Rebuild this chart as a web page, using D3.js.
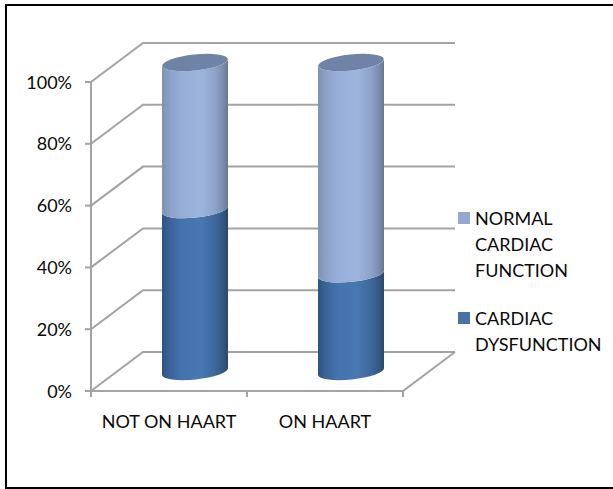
<!DOCTYPE html>
<html><head><meta charset="utf-8">
<script src="https://cdn.jsdelivr.net/npm/d3@7"></script>
<style>html,body{margin:0;padding:0;background:#fff}svg{display:block}text{font-family:Lato,"Open Sans",sans-serif;fill:#0a0a0a}</style>
</head><body><div id="c"></div>
<script>
const categories = ["NOT ON HAART", "ON HAART"];
const dysfunction = [0.524, 0.316];
const normal = [0.476, 0.684];
const yTicks = [0, 0.2, 0.4, 0.6, 0.8, 1];
const legendItems = [
  {lines:["NORMAL","CARDIAC","FUNCTION"], key:"normal"},
  {lines:["CARDIAC","DYSFUNCTION"], key:"dys"}
];
const W=613,H=489;
const svg=d3.select("#c").append("svg").attr("width",W).attr("height",H);
const defs=svg.append("defs");
function grad(id,stops){
  const g=defs.append("linearGradient").attr("id",id);
  stops.forEach(s=>g.append("stop").attr("offset",s[0]).attr("stop-color",s[1]));
}
grad("gLight",[[0,"#7f92b4"],[0.12,"#8ba1c8"],[0.3,"#97aed8"],[0.6,"#9db4dd"],[0.8,"#8ea3c9"],[0.93,"#7a8cab"],[1,"#68768f"]]);
grad("gDark",[[0,"#2f5380"],[0.12,"#3a6499"],[0.3,"#4473ad"],[0.6,"#4877b2"],[0.8,"#3e689b"],[0.93,"#335781"],[1,"#2a4768"]]);

svg.append("path").attr("d","M6 489V5H613M6 488H613").attr("fill","none").attr("stroke","#000").attr("stroke-width",2);

const y=d3.scaleLinear().domain([0,1]).range([391,82]);
const x=d3.scaleBand().domain(categories).range([91,403]);
const dx=52,dy=-39;
const grey="#a3a3a3";
const g=svg.append("g").attr("fill","none").attr("stroke",grey).attr("stroke-width",2);
yTicks.forEach(t=>{
  g.append("path").attr("d",d3.line()([[x.range()[0],y(t)],[x.range()[0]+dx,y(t)+dy],[x.range()[1]+dx,y(t)+dy]]));
  g.append("line").attr("x1",x.range()[0]-6).attr("x2",x.range()[0]).attr("y1",y(t)).attr("y2",y(t));
});
g.append("line").attr("x1",x.range()[0]).attr("x2",x.range()[0]).attr("y1",y(1)).attr("y2",y(0)+6);
g.append("path").attr("d",d3.line()([[x.range()[0],y(0)],[x.range()[1],y(0)],[x.range()[1]+dx,y(0)+dy]]));
[categories[1],null].forEach(c=>{
  const px=c?x(c):x.range()[1];
  g.append("line").attr("x1",px).attr("x2",px).attr("y1",y(0)).attr("y2",y(0)+6);
});

const rx=33,ry=8,tilt=-6;
const cyl=svg.append("g");
function body(cx,v0,v1,fill){
  const yb=y(v0)+dy/2,yt=y(v1)+dy/2;
  const a=Math.tan(tilt*Math.PI/180)*rx;
  const arc=`A${rx} ${ry} ${tilt} 0 0 ${cx+rx} ${yb+a}`;
  const arcTopBack=`A${rx} ${ry} ${tilt} 0 1 ${cx-rx} ${yt-a}`;
  cyl.append("path").attr("fill",fill)
    .attr("d",`M${cx-rx} ${yb-a}${arc}L${cx+rx} ${yt+a}${arcTopBack}Z`);
}
categories.forEach((c,i)=>{
  const cx=x(c)+x.bandwidth()/2+dx/2;
  body(cx,0,dysfunction[i],"url(#gDark)");
  body(cx,dysfunction[i],dysfunction[i]+normal[i],"url(#gLight)");
  cyl.append("ellipse").attr("cx",cx).attr("cy",y(dysfunction[i]+normal[i])+dy/2)
    .attr("rx",rx).attr("ry",ry).attr("fill","#6f83a6")
    .attr("transform",`rotate(${tilt} ${cx} ${y(dysfunction[i]+normal[i])+dy/2})`);
});

svg.append("g").selectAll("text").data(yTicks).join("text")
  .attr("x",72).attr("y",d=>y(d)+6.5).attr("text-anchor","end").attr("font-size",18)
  .text(d3.format(".0%"));
svg.append("g").selectAll("text").data(categories).join("text")
  .attr("x",c=>x(c)+x.bandwidth()/2).attr("y",427.5).attr("text-anchor","middle").attr("font-size",18)
  .text(d=>d);

const legY=[218,318];
const colors={normal:"#94a9d0",dys:"#4672a8"};
legendItems.forEach((it,i)=>{
  svg.append("rect").attr("x",458).attr("y",legY[i]-6).attr("width",12).attr("height",12).attr("fill",colors[it.key]);
  it.lines.forEach((l,j)=>svg.append("text").attr("x",475).attr("y",legY[i]+6.5+j*26).attr("font-size",18).text(l));
});
</script></body></html>
